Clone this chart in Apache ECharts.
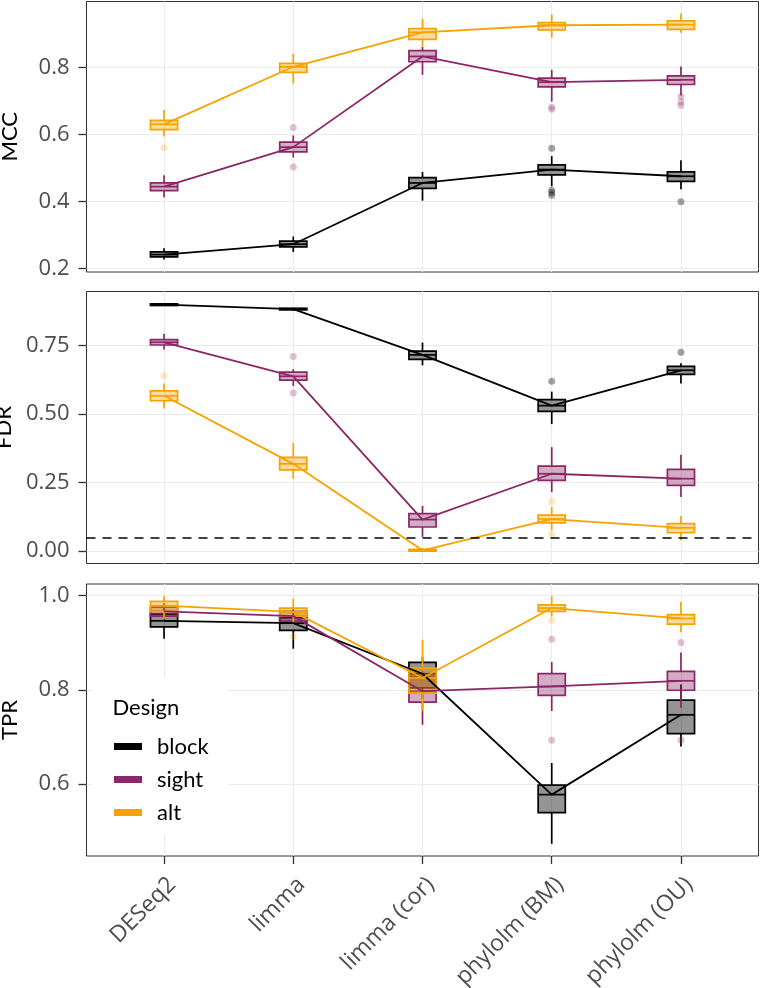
<!DOCTYPE html>
<html><head><meta charset="utf-8">
<script src="https://cdn.jsdelivr.net/npm/echarts@6/dist/echarts.min.js"></script>
<style>html,body{margin:0;padding:0;background:#fff}#c{width:760px;height:988px}</style>
</head><body><div id="c"></div>
<script>
// ---------- data ----------
const categories = ['DESeq2', 'limma', 'limma (cor)', 'phylolm (BM)', 'phylolm (OU)'];
const designs = ['block', 'sight', 'alt'];
const metrics = ['MCC', 'FDR', 'TPR'];

// box stats per category: [min, q1, median, q3, max]
const mccBlock = [[0.226,0.234,0.241,0.249,0.260],[0.249,0.264,0.272,0.281,0.295],[0.402,0.439,0.455,0.471,0.488],[0.445,0.479,0.495,0.509,0.535],[0.436,0.460,0.475,0.488,0.523]];
const mccSight = [[0.412,0.432,0.444,0.455,0.478],[0.531,0.548,0.562,0.577,0.597],[0.778,0.817,0.833,0.850,0.862],[0.698,0.742,0.756,0.768,0.793],[0.716,0.749,0.763,0.775,0.803]];
const mccAlt   = [[0.594,0.614,0.630,0.642,0.673],[0.752,0.785,0.802,0.812,0.840],[0.864,0.884,0.905,0.916,0.946],[0.889,0.912,0.926,0.934,0.958],[0.904,0.914,0.928,0.939,0.961]];
// outliers: [categoryIndex, value]
const mccBlockOut = [[3,0.559],[3,0.433],[3,0.426],[3,0.418],[4,0.399]];
const mccSightOut = [[1,0.621],[1,0.503],[3,0.681],[3,0.675],[4,0.713],[4,0.697],[4,0.686]];
const mccAltOut   = [[0,0.560]];

const fdrBlock = [[0.893,0.895,0.898,0.901,0.903],[0.877,0.879,0.882,0.885,0.887],[0.677,0.699,0.715,0.729,0.760],[0.463,0.509,0.530,0.552,0.581],[0.611,0.644,0.659,0.673,0.685]];
const fdrSight = [[0.735,0.751,0.761,0.771,0.792],[0.602,0.623,0.637,0.652,0.663],[0.052,0.088,0.115,0.137,0.165],[0.215,0.258,0.282,0.310,0.379],[0.197,0.240,0.264,0.298,0.351]];
const fdrAlt   = [[0.520,0.548,0.566,0.584,0.611],[0.264,0.296,0.318,0.342,0.394],[0.000,0.000,0.003,0.007,0.012],[0.076,0.103,0.117,0.131,0.161],[0.040,0.067,0.085,0.100,0.128]];
const fdrBlockOut = [[3,0.619],[4,0.725]];
const fdrSightOut = [[1,0.709],[1,0.576]];
const fdrAltOut   = [[0,0.639],[3,0.181],[3,0.062]];
const fdrThreshold = 0.05;

const tprBlock = [[0.908,0.933,0.946,0.960,0.973],[0.887,0.926,0.941,0.953,0.968],[0.780,0.804,0.834,0.858,0.870],[0.474,0.540,0.578,0.598,0.645],[0.680,0.707,0.747,0.778,0.811]];
const tprSight = [[0.945,0.956,0.966,0.975,0.984],[0.940,0.945,0.956,0.966,0.972],[0.726,0.774,0.797,0.829,0.839],[0.755,0.788,0.807,0.834,0.859],[0.762,0.799,0.819,0.839,0.879]];
const tprAlt   = [[0.950,0.966,0.978,0.987,0.998],[0.938,0.956,0.965,0.973,0.993],[0.755,0.793,0.825,0.846,0.906],[0.955,0.966,0.973,0.980,0.998],[0.922,0.939,0.951,0.959,0.986]];
const tprBlockOut = [];
const tprSightOut = [[3,0.907],[3,0.693],[4,0.900],[4,0.693]];
const tprAltOut   = [[1,0.913],[3,0.947]];

const xTickValues = [0, 1, 2, 3, 4];
const yTickValues = [[0.2,0.4,0.6,0.8],[0,0.25,0.5,0.75],[0.6,0.8,1.0]];

// ---------- styling ----------
const colors = ['#000000', '#8B2766', '#F5A300'];
const fills = ['rgba(0,0,0,0.42)', 'rgba(139,39,102,0.38)', 'rgba(245,163,0,0.38)'];
const outColors = ['rgba(0,0,0,0.45)', 'rgba(139,39,102,0.35)', 'rgba(245,163,0,0.3)'];
const tickFont = 'Open Sans';
const titleFont = 'Lato';

const panelBoxes = [[mccBlock, mccSight, mccAlt],[fdrBlock, fdrSight, fdrAlt],[tprBlock, tprSight, tprAlt]];
const panelOut = [[mccBlockOut, mccSightOut, mccAltOut],[fdrBlockOut, fdrSightOut, fdrAltOut],[tprBlockOut, tprSightOut, tprAltOut]];
const yRange = [[0.189,0.997],[-0.045,0.946],[0.448,1.024]];
const digits = [1,2,1];
const gridPos = [
  {left: 86.5, top: 1.5, width: 672, height: 270.5},
  {left: 86.5, top: 291.5, width: 672, height: 272},
  {left: 86.5, top: 584, width: 672, height: 272}
];

function boxRenderer(d) {
  return function (params, api) {
    const x = api.value(0);
    const lo = api.coord([x, api.value(1)]);
    const q1 = api.coord([x, api.value(2)]);
    const md = api.coord([x, api.value(3)]);
    const q3 = api.coord([x, api.value(4)]);
    const hi = api.coord([x, api.value(5)]);
    const w = api.size([0.21, 0])[0];
    const lw = 1.7;
    return {
      type: 'group',
      children: [
        {type: 'line', shape: {x1: lo[0], y1: lo[1], x2: q1[0], y2: q1[1]}, style: {stroke: colors[d], lineWidth: lw}},
        {type: 'line', shape: {x1: q3[0], y1: q3[1], x2: hi[0], y2: hi[1]}, style: {stroke: colors[d], lineWidth: lw}},
        {type: 'rect', shape: {x: q3[0] - w / 2, y: q3[1], width: w, height: Math.max(q1[1] - q3[1], 1)}, style: {fill: fills[d], stroke: colors[d], lineWidth: lw}},
        {type: 'line', shape: {x1: md[0] - w / 2, y1: md[1], x2: md[0] + w / 2, y2: md[1]}, style: {stroke: colors[d], lineWidth: lw}}
      ]
    };
  };
}

const grids = [], xAxes = [], yAxes = [], series = [];
for (let p = 0; p < 3; p++) {
  grids.push(Object.assign({show: true, borderColor: '#333333', borderWidth: 1, backgroundColor: 'transparent',
    containLabel: false, outerBoundsMode: 'none'}, gridPos[p]));
  xAxes.push({
    type: 'value', gridIndex: p, min: -0.6, max: 4.6, position: 'bottom',
    axisLine: {show: false, onZero: false},
    axisTick: {show: p === 2, length: 8, lineStyle: {color: '#333', width: 1.3}, customValues: xTickValues},
    axisLabel: {show: p === 2, customValues: xTickValues, rotate: 45, margin: 17, align: 'right', verticalAlign: 'top',
      formatter: v => categories[Math.round(v)] || '', fontFamily: tickFont, fontSize: 23, color: '#4D4D4D'},
    splitLine: {show: true, lineStyle: {color: '#EBEBEB', width: 1.2}, customValues: xTickValues}
  });
  yAxes.push({
    type: 'value', gridIndex: p, min: yRange[p][0], max: yRange[p][1], position: 'left',
    name: metrics[p], nameLocation: 'middle', nameGap: 66, nameRotate: 90,
    nameTextStyle: {fontFamily: titleFont, fontSize: 22, color: '#000'},
    axisLine: {show: false, onZero: false},
    axisTick: {show: true, length: 8, lineStyle: {color: '#333', width: 1.3}, customValues: yTickValues[p]},
    axisLabel: {customValues: yTickValues[p], margin: 17, formatter: v => v.toFixed(digits[p]),
      fontFamily: tickFont, fontSize: 22, color: '#4D4D4D'},
    splitLine: {show: true, lineStyle: {color: '#EBEBEB', width: 1.2}, customValues: yTickValues[p]}
  });
}
for (let p = 0; p < 3; p++) {
  for (let d = 0; d < 3; d++) {
    series.push({
      type: 'custom', name: designs[d] + '_box', xAxisIndex: p, yAxisIndex: p,
      renderItem: boxRenderer(d),
      encode: {x: 0, y: [1,2,3,4,5]},
      data: panelBoxes[p][d].map((b, i) => [i].concat(b)),
      z: 2
    });
  }
  for (let d = 0; d < 3; d++) {
    series.push({
      type: 'scatter', name: designs[d] + '_out', xAxisIndex: p, yAxisIndex: p,
      data: panelOut[p][d], symbolSize: 7,
      itemStyle: {color: outColors[d]}, z: 3, silent: true
    });
  }
  for (let d = 0; d < 3; d++) {
    const s = {
      type: 'line', name: designs[d], xAxisIndex: p, yAxisIndex: p,
      data: panelBoxes[p][d].map((b, i) => [i, b[2]]),
      symbol: 'none', lineStyle: {color: colors[d], width: 1.8}, itemStyle: {color: colors[d]},
      z: 4, silent: true
    };
    if (p === 1 && d === 0) {
      s.markLine = {silent: true, symbol: 'none', label: {show: false},
        lineStyle: {type: [9, 7], color: '#000', width: 1.7},
        data: [{yAxis: fdrThreshold}]};
    }
    series.push(s);
  }
}

const option = {
  backgroundColor: '#fff',
  animation: false,
  grid: grids, xAxis: xAxes, yAxis: yAxes, series: series,
  legend: {
    orient: 'vertical', left: 114, top: 735.5, padding: 0, itemGap: 11,
    itemWidth: 28, itemHeight: 7, icon: 'rect', selectedMode: false,
    textStyle: {fontFamily: titleFont, fontSize: 22, color: '#000', lineHeight: 22, padding: [0,0,0,10]},
    data: designs.map((n, i) => ({name: n, itemStyle: {color: colors[i]}})),
    z: 20
  },
  graphic: [
    {type: 'rect', left: 92, top: 677, shape: {width: 136, height: 158}, style: {fill: '#fff'}, z: 15},
    {type: 'text', left: 112.5, top: 697, style: {text: 'Design', font: '22px Lato', fill: '#000'}, z: 16}
  ]
};
const chart = echarts.init(document.getElementById('c'), null, {renderer: 'canvas'});
chart.setOption(option);
</script></body></html>
